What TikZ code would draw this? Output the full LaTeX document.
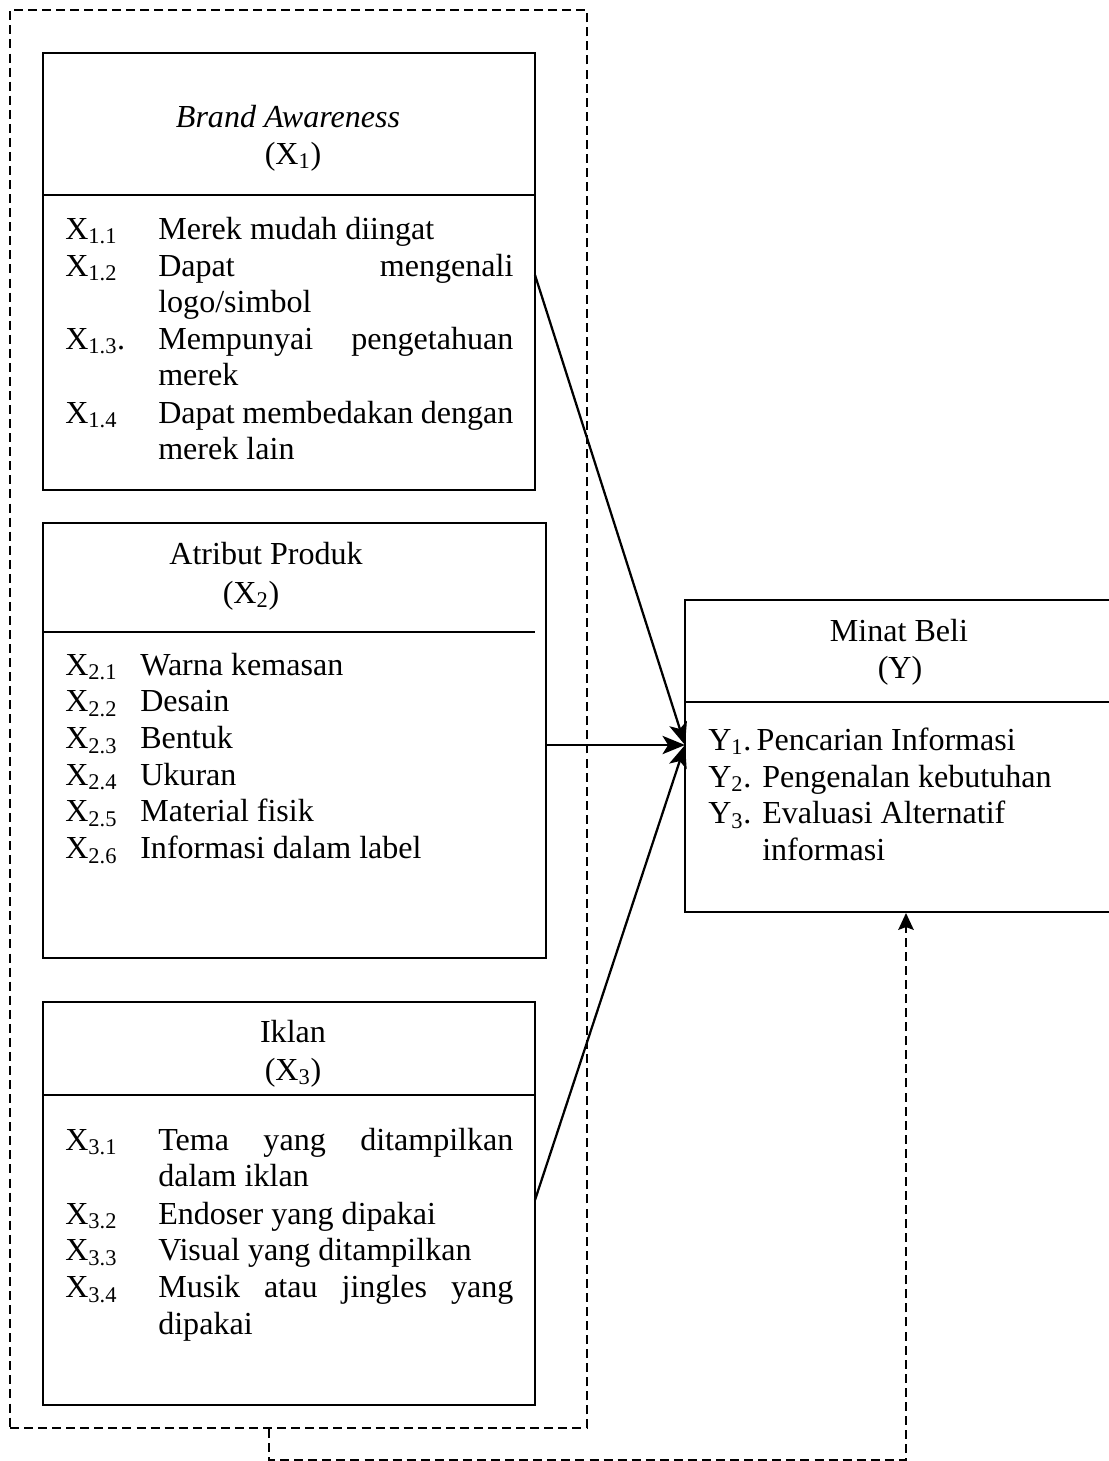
\documentclass[tikz,border=0pt]{standalone}
\usepackage{fontspec}
\setmainfont{Liberation Serif}
\usetikzlibrary{arrows.meta,fit}

\newcommand{\itemrow}[3]{\makebox[#1][l]{#2}\parbox[t]{8.875cm}{#3}}
\newcommand{\jline}[1]{\makebox[\linewidth][s]{#1}}

\begin{document}
\begin{tikzpicture}[x=0.025cm,y=-0.025cm,
	font={\fontsize{22.8}{26.1}\selectfont},
	box/.style={draw=black,line width=1.4pt,inner sep=0pt},
	grpbox/.style={draw=black,line width=1.4pt,dash pattern=on 6.4pt off 3.6pt,inner sep=0pt},
	divline/.style={line width=1.4pt},
	title/.style={anchor=base,inner sep=0pt},
	item/.style={anchor=base west,inner sep=0pt},
	arr/.style={line width=1.6pt,-{Stealth[length=16pt,width=13pt,inset=4pt]}},
	fbline/.style={line width=1.4pt,dash pattern=on 6.4pt off 3.6pt,-{Stealth[length=12pt,width=11pt,inset=2pt]}}]
	
	\useasboundingbox (0,0) rectangle (1109,1461);
	
	% boxes
	\node[grpbox, fit={(10,10) (587,1428)}] (grp) {};
	\node[box, fit={(43,53) (535,490)}]     (bx1) {};
	\node[box, fit={(43,523) (546,958)}]    (bx2) {};
	\node[box, fit={(43,1002) (535,1405)}]  (bx3) {};
	\node[box, fit={(685,600) (1125,912)}]  (by)  {};
	
	\draw[divline] (43,195)   -- (535,195);
	\draw[divline] (43,632)   -- (535,632);
	\draw[divline] (43,1095)  -- (535,1095);
	\draw[divline] (685,702)  -- (1125,702);
	
	% titles
	\node[title] (t1)  at (288,127)  {\textit{Brand Awareness}};
	\node[title] (t1x) at (293,164)  {(X\textsubscript{1})};
	\node[title] (t2)  at (266,564)  {Atribut Produk};
	\node[title] (t2x) at (251,603)  {(X\textsubscript{2})};
	\node[title] (t3)  at (293,1042) {Iklan};
	\node[title] (t3x) at (293,1080) {(X\textsubscript{3})};
	\node[title] (ty)  at (899,641)  {Minat Beli};
	\node[title] (tyx) at (900,678)  {(Y)};
	
	% indicators X1
	\node[item] (x11) at (65,239) {\itemrow{2.325cm}{X\textsubscript{1.1}}{Merek mudah diingat}};
	\node[item] (x12) at (65,276) {\itemrow{2.325cm}{X\textsubscript{1.2}}{\jline{Dapat mengenali}\\logo/simbol}};
	\node[item] (x13) at (65,349) {\itemrow{2.325cm}{X\textsubscript{1.3}.}{\jline{Mempunyai pengetahuan}\\merek}};
	\node[item] (x14) at (65,423) {\itemrow{2.325cm}{X\textsubscript{1.4}}{\jline{Dapat membedakan dengan}\\merek lain}};
	
	% indicators X2
	\node[item] (x21) at (65,675)   {\itemrow{1.875cm}{X\textsubscript{2.1}}{Warna kemasan}};
	\node[item] (x22) at (65,711.7) {\itemrow{1.875cm}{X\textsubscript{2.2}}{Desain}};
	\node[item] (x23) at (65,748.4) {\itemrow{1.875cm}{X\textsubscript{2.3}}{Bentuk}};
	\node[item] (x24) at (65,785.1) {\itemrow{1.875cm}{X\textsubscript{2.4}}{Ukuran}};
	\node[item] (x25) at (65,821.8) {\itemrow{1.875cm}{X\textsubscript{2.5}}{Material fisik}};
	\node[item] (x26) at (65,858.5) {\itemrow{1.875cm}{X\textsubscript{2.6}}{Informasi dalam label}};
	
	% indicators X3
	\node[item] (x31) at (65,1150)   {\itemrow{2.325cm}{X\textsubscript{3.1}}{\jline{Tema yang ditampilkan}\\dalam iklan}};
	\node[item] (x32) at (65,1224)   {\itemrow{2.325cm}{X\textsubscript{3.2}}{Endoser yang dipakai}};
	\node[item] (x33) at (65,1260.8) {\itemrow{2.325cm}{X\textsubscript{3.3}}{Visual yang ditampilkan}};
	\node[item] (x34) at (65,1297.5) {\itemrow{2.325cm}{X\textsubscript{3.4}}{\jline{Musik atau jingles yang}\\dipakai}};
	
	% indicators Y
	\node[item] (y1) at (708,750)   {Y\textsubscript{1}.\,Pencarian Informasi};
	\node[item] (y2) at (708,787)   {\itemrow{1.35cm}{Y\textsubscript{2}.}{Pengenalan kebutuhan}};
	\node[item] (y3) at (708,823.5) {\itemrow{1.35cm}{Y\textsubscript{3}.}{Evaluasi Alternatif\\informasi}};
	
	% connectors
	\coordinate (x1out) at (535,275);
	\coordinate (x2out) at (546,745);
	\coordinate (x3out) at (535,1200);
	\coordinate (yin)   at (685,745);
	\coordinate (fbl)   at (269,1460);
	\coordinate (fbr)   at (906,1460);
	
	\draw[arr] (x1out) -- (yin);
	\draw[arr] (x2out) -- (yin);
	\draw[arr] (x3out) -- (yin);
	\draw[fbline] (grp.south -| fbl) -- (fbl) -- (fbr) -- (by.south -| fbr);
	
\end{tikzpicture}
\end{document}
